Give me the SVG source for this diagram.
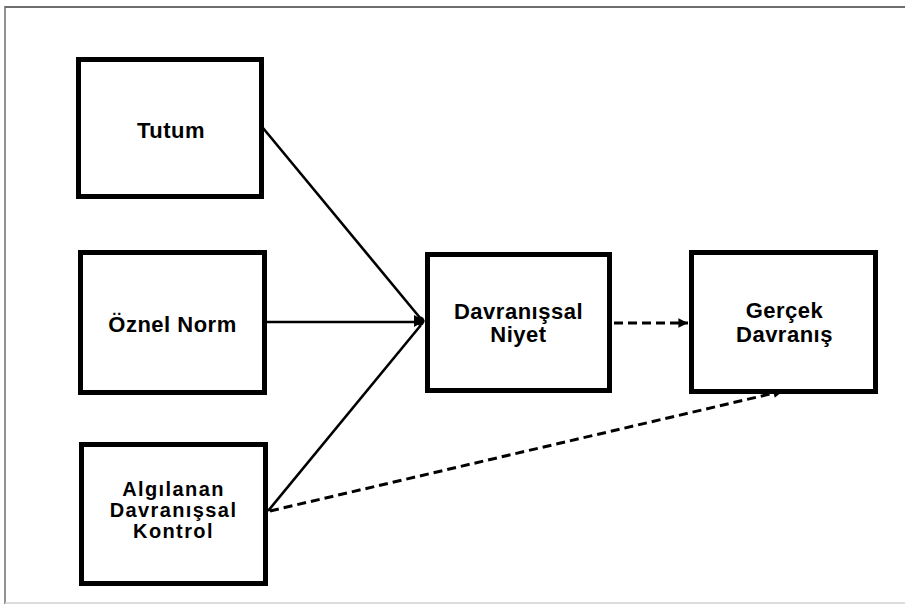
<svg xmlns="http://www.w3.org/2000/svg" width="905" height="605" viewBox="0 0 905 605">
  <style>
    .box { fill: #ffffff; stroke: #000000; stroke-width: 5; }
    .label { font-family: "Liberation Sans", Arial, sans-serif; font-weight: bold; font-size: 22px; letter-spacing: 0.5px; fill: #000000; text-anchor: middle; }
    .tight { font-size: 20px; letter-spacing: 1.4px; }
    .solid { stroke: #000000; stroke-width: 2.6; fill: none; }
    .dashed { stroke: #000000; stroke-width: 3; fill: none; stroke-dasharray: 9 5; }
  </style>
  <defs>
    <marker id="arrow" viewBox="0 0 10 10" refX="10" refY="5" markerWidth="4.2" markerHeight="3.2" orient="auto" markerUnits="strokeWidth">
      <path d="M0,0 L10,5 L0,10 Z" fill="#000"/>
    </marker>
  </defs>

  <!-- page frame -->
  <rect x="0" y="0" width="905" height="605" fill="#ffffff"/>
  <line x1="5" y1="7" x2="905" y2="7" stroke="#6e6e6e" stroke-width="2"/>
  <line x1="5" y1="6" x2="5" y2="604" stroke="#6e6e6e" stroke-width="1.5"/>
  <line x1="5" y1="603" x2="905" y2="603" stroke="#d0d0d0" stroke-width="1.5"/>

  <!-- connectors -->
  <g id="connectors">
    <line class="solid" x1="263" y1="128" x2="421" y2="319"/>
    <line class="solid" x1="266" y1="322" x2="421" y2="322"/>
    <line class="solid" x1="268" y1="511" x2="421" y2="325"/>
    <circle cx="420" cy="321" r="4.5" fill="#000"/>
    <path d="M414,315 L425,321 L414,327 Z" fill="#000"/>
    <line class="dashed" x1="614" y1="323" x2="688" y2="323" marker-end="url(#arrow)"/>
    <line class="dashed" x1="270" y1="511" x2="783" y2="391" marker-end="url(#arrow)"/>
  </g>

  <g id="tutum">
    <rect class="box" x="78.5" y="59.5" width="183" height="137"/>
    <text class="label" x="171" y="138">Tutum</text>
  </g>

  <g id="oznel-norm">
    <rect class="box" x="80.5" y="252.5" width="184" height="140"/>
    <text class="label" x="172.5" y="332">Öznel Norm</text>
  </g>

  <g id="algilanan-davranissal-kontrol">
    <rect class="box" x="81.5" y="444.5" width="184" height="139"/>
    <text class="label tight" x="173.5" y="496">Algılanan</text>
    <text class="label tight" x="173.5" y="517">Davranışsal</text>
    <text class="label tight" x="173.5" y="538">Kontrol</text>
  </g>

  <g id="davranissal-niyet">
    <rect class="box" x="427.5" y="254.5" width="182" height="136"/>
    <text class="label" x="518.5" y="319">Davranışsal</text>
    <text class="label" x="518.5" y="342">Niyet</text>
  </g>

  <g id="gercek-davranis">
    <rect class="box" x="691.5" y="252.5" width="184" height="139"/>
    <text class="label" x="784.5" y="318">Gerçek</text>
    <text class="label" x="784.5" y="342">Davranış</text>
  </g>
</svg>
